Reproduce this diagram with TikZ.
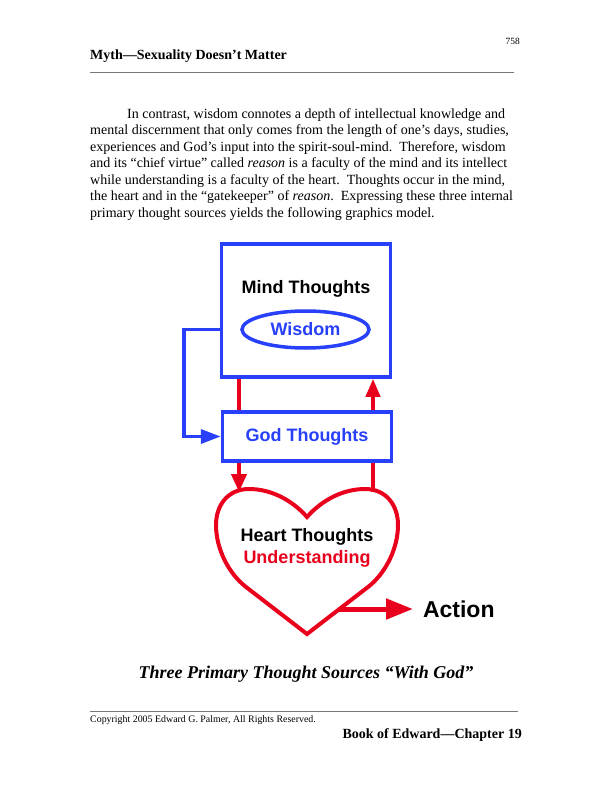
\documentclass[tikz,border=0pt]{standalone}
\usepackage{fontspec}
\setmainfont{Liberation Serif}
\setsansfont{Liberation Sans}
\usetikzlibrary{arrows.meta,shapes.geometric}
\definecolor{dblue}{RGB}{40,64,250}
\definecolor{dred}{RGB}{232,0,28}
\definecolor{rulegray}{RGB}{120,120,120}
\begin{document}
\begin{tikzpicture}[x=1pt,y=-1pt,
  txt/.style={inner sep=0pt, anchor=base west, font=\fontsize{14}{16}\selectfont},
  bluebox/.style={draw=dblue, line width=3.5pt, fill=white, inner sep=0pt},
  lbl/.style={inner sep=0pt, font=\sffamily\bfseries\fontsize{18}{21}\selectfont},
  blueline/.style={draw=dblue, line width=3.5pt},
  redline/.style={draw=dred, line width=4pt},
  pagerule/.style={draw=rulegray, line width=0.7pt}]
\useasboundingbox (0,0) rectangle (612,791);
\fill[white] (0,0) rectangle (612,791);
% header
\node[inner sep=0pt, anchor=base east, font=\fontsize{9.5}{11}\selectfont] (pnum) at (520,45) {758};
\node[inner sep=0pt, anchor=base west, font=\bfseries\fontsize{14}{16}\selectfont] (head) at (90,60) {Myth—Sexuality Doesn’t Matter};
\coordinate (r1a) at (90,72.5); \coordinate (r1b) at (514,72.5);
\draw[pagerule] (r1a) -- (r1b);
% paragraph
\node[txt] (p1) at (127,118.5) {In contrast, wisdom connotes a depth of intellectual knowledge and};
\node[txt] (p2) at (90,135) {mental discernment that only comes from the length of one’s days, studies,};
\node[txt] (p3) at (90,151.5) {experiences and God’s input into the spirit-soul-mind.\ \ Therefore, wisdom};
\node[txt] (p4) at (90,168) {and its “chief virtue” called \textit{reason} is a faculty of the mind and its intellect};
\node[txt] (p5) at (90,184.5) {while understanding is a faculty of the heart.\ \ Thoughts occur in the mind,};
\node[txt] (p6) at (90,201) {the heart and in the “gatekeeper” of \textit{reason}.\ \ Expressing these three internal};
\node[txt] (p7) at (90,217.5) {primary thought sources yields the following graphics model.};
% diagram
\node[bluebox, minimum width=169pt, minimum height=133pt] (mind) at (306,310.5) {};
\node[lbl, text=black] (mt) at (306,289) {Mind Thoughts};
\node[draw=dblue, line width=3.5pt, ellipse, minimum width=127pt, minimum height=37pt, inner sep=0pt, font=\sffamily\bfseries\fontsize{18}{21}\selectfont, text=dblue] (wis) at (305.5,329.5) {Wisdom};
\node[bluebox, minimum width=169pt, minimum height=49pt, font=\sffamily\bfseries\fontsize{18}{21}\selectfont, text=dblue] (god) at (307,436.5) {God Thoughts};
\draw[blueline, -{Triangle[length=20pt,width=14pt]}] (mind.west |- wis) -- ++(-36,0) |- (god.west);
\coordinate (hl) at (239,492);
\coordinate (hr) at (373,492);
\draw[redline] (mind.south -| hl) -- (god.north -| hl);
\draw[redline, -{Triangle[length=18pt,width=14pt]}] (god.north -| hr) -- (mind.south -| hr);
\draw[redline, -{Triangle[length=18pt,width=15pt]}] (god.south -| hl) -- (hl);
\draw[redline] (god.south -| hr) -- (hr);
% heart
\draw[draw=dred, line width=4pt, line join=miter]
  (307,517) .. controls (322,500) and (343,489) .. (365,489)
  .. controls (386,489) and (398,505) .. (398,525)
  .. controls (398,548) and (386,573) .. (368,587)
  -- (307,634) -- (246,587)
  .. controls (228,573) and (216,548) .. (216,525)
  .. controls (216,505) and (228,489) .. (249,489)
  .. controls (271,489) and (292,500) .. (307,517) -- cycle;
\node[lbl, text=black] (ht) at (307,537) {Heart Thoughts};
\node[lbl, text=dred] (und) at (307,559) {Understanding};
\coordinate (as) at (338,609);
\node[inner sep=5pt, outer sep=5pt, anchor=west, font=\sffamily\bfseries\fontsize{23}{26}\selectfont] (action) at (413,609) {Action};
\draw[draw=dred, line width=5pt, -{Triangle[length=27pt,width=20pt]}] (as) -- (action.west);
% caption
\node[inner sep=0pt, anchor=base, font=\bfseries\itshape\fontsize{18}{20}\selectfont] (cap) at (306,678) {Three Primary Thought Sources “With God”};
% footer
\coordinate (r2a) at (90,711); \coordinate (r2b) at (518,711);
\draw[pagerule] (r2a) -- (r2b);
\node[inner sep=0pt, anchor=base west, font=\fontsize{9.9}{11}\selectfont] (copy) at (90,722) {Copyright 2005 Edward G. Palmer, All Rights Reserved.};
\node[inner sep=0pt, anchor=base east, font=\bfseries\fontsize{14}{16}\selectfont] (book) at (522,738.5) {Book of Edward—Chapter 19};
\end{tikzpicture}
\end{document}
